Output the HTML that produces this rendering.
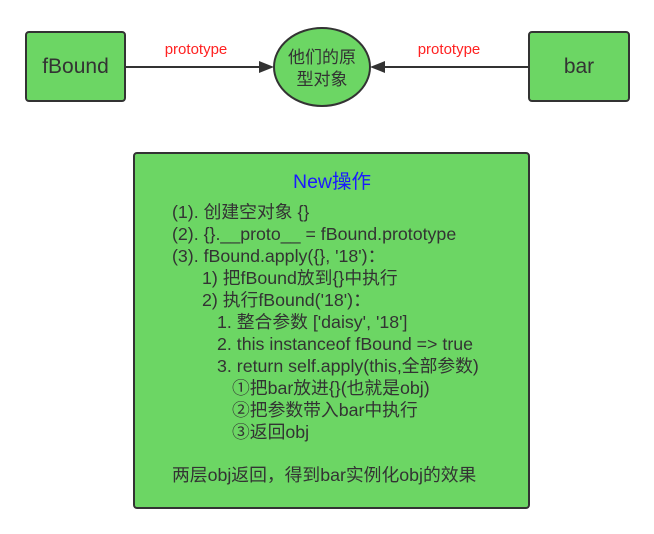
<!DOCTYPE html>
<html><head><meta charset="utf-8"><style>
body{margin:0;background:#fff;width:654px;height:534px;position:relative;overflow:hidden;font-family:"Liberation Sans","Noto Sans CJK SC",sans-serif;color:#333}
.box{position:absolute;background:#6cd664;border:2px solid #333;border-radius:4px;box-sizing:border-box}
.t{position:absolute;white-space:nowrap;font-size:17.8px;line-height:20px}
</style></head><body>
<svg width="654" height="534" style="position:absolute;left:0;top:0">
<line x1="126" y1="67" x2="262" y2="67" stroke="#333" stroke-width="2"/>
<polygon points="274,67 259,61 259,73" fill="#333"/>
<line x1="529" y1="67" x2="382" y2="67" stroke="#333" stroke-width="2"/>
<polygon points="370,67 385,61 385,73" fill="#333"/>
<ellipse cx="322" cy="67" rx="48" ry="39" fill="#6cd664" stroke="#333" stroke-width="2"/>
<text x="196" y="54" font-size="15" fill="#f22" text-anchor="middle" font-family="Liberation Sans,sans-serif">prototype</text>
<text x="449" y="54" font-size="15" fill="#f22" text-anchor="middle" font-family="Liberation Sans,sans-serif">prototype</text>
<text x="322" y="63" font-size="17" fill="#333" text-anchor="middle" font-family="Noto Sans CJK SC,sans-serif">他们的原</text>
<text x="322" y="85" font-size="17" fill="#333" text-anchor="middle" font-family="Noto Sans CJK SC,sans-serif">型对象</text>
</svg>
<div class="box" style="left:25px;top:31px;width:101px;height:71px;display:flex;align-items:center;justify-content:center;font-size:21px">fBound</div>
<div class="box" style="left:528px;top:31px;width:102px;height:71px;display:flex;align-items:center;justify-content:center;font-size:21px">bar</div>
<div class="box" style="left:133px;top:152px;width:397px;height:357px"></div>
<div class="t" style="left:0;width:664px;text-align:center;top:172px;font-size:19.5px;color:#1a1aff">New操作</div>
<div class="t" style="left:172px;top:202px">(1). 创建空对象 {}</div>
<div class="t" style="left:172px;top:224px">(2). {}.__proto__ = fBound.prototype</div>
<div class="t" style="left:172px;top:246px">(3). fBound.apply({}, '18')：</div>
<div class="t" style="left:202px;top:268px">1) 把fBound放到{}中执行</div>
<div class="t" style="left:202px;top:290px">2) 执行fBound('18')：</div>
<div class="t" style="left:217px;top:312px">1. 整合参数 ['daisy', '18']</div>
<div class="t" style="left:217px;top:334px">2. this instanceof fBound =&gt; true</div>
<div class="t" style="left:217px;top:356px">3. return self.apply(this,全部参数)</div>
<div class="t" style="left:232px;top:378px">①把bar放进{}(也就是obj)</div>
<div class="t" style="left:232px;top:400px">②把参数带入bar中执行</div>
<div class="t" style="left:232px;top:422px">③返回obj</div>
<div class="t" style="left:172px;top:465px">两层obj返回，得到bar实例化obj的效果</div>
</body></html>
